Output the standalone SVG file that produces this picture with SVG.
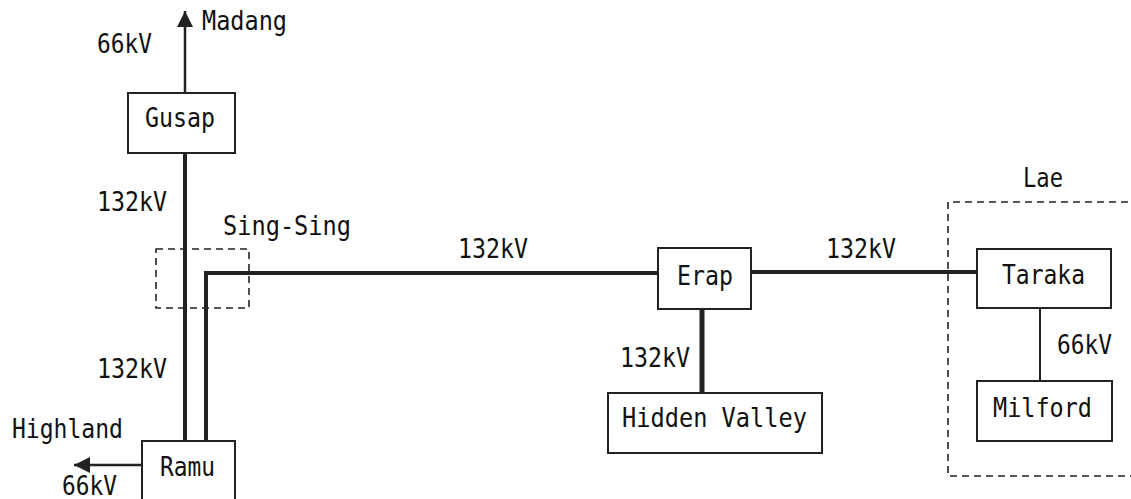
<svg xmlns="http://www.w3.org/2000/svg" width="1131" height="499" viewBox="0 0 1131 499">
  <style>
    text { font-family: "DejaVu Sans Mono", "Liberation Mono", monospace; font-size: 27px; fill: #111; }
    .box { fill: #fff; stroke: #222; stroke-width: 2; }
    .area { fill: none; stroke: #222; stroke-width: 1.6; stroke-dasharray: 7 5; }
    .hv { fill: none; stroke: #222; stroke-width: 4; }
    .lv { fill: none; stroke: #222; stroke-width: 2.5; }
  </style>
  <defs>
    <marker id="arrow" markerUnits="userSpaceOnUse" markerWidth="18" markerHeight="18" refX="16" refY="8" orient="auto">
      <path d="M0,0 L16,8 L0,16 Z" fill="#222"/>
    </marker>
  </defs>

  <!-- substation areas (dashed outlines) -->
  <g id="area-singsing">
    <rect class="area" x="156" y="249" width="93" height="59"/>
    <text x="223" y="235" textLength="128" lengthAdjust="spacingAndGlyphs">Sing-Sing</text>
  </g>
  <g id="area-lae">
    <path class="area" d="M1140,202 H948 V476 H1140"/>
    <text x="1023" y="187" textLength="40" lengthAdjust="spacingAndGlyphs">Lae</text>
  </g>

  <!-- transmission lines -->
  <g id="connectors">
    <path class="lv" d="M185,93 V11" marker-end="url(#arrow)"/>
    <path class="hv" d="M185,153 V441"/>
    <path class="hv" d="M206,441 V273 H658"/>
    <path class="hv" d="M751,272 H977"/>
    <path class="hv" d="M702,309 V393" style="stroke-width:5"/>
    <path class="lv" d="M1040,308 V381" style="stroke-width:2"/>
    <path class="lv" d="M142,465 H74" marker-end="url(#arrow)"/>
  </g>

  <!-- voltage labels and destinations -->
  <g id="labels">
    <text x="97" y="53" textLength="55" lengthAdjust="spacingAndGlyphs">66kV</text>
    <text x="202" y="30" textLength="85" lengthAdjust="spacingAndGlyphs">Madang</text>
    <text x="97" y="211" textLength="70" lengthAdjust="spacingAndGlyphs">132kV</text>
    <text x="97" y="378" textLength="70" lengthAdjust="spacingAndGlyphs">132kV</text>
    <text x="12" y="438" textLength="111" lengthAdjust="spacingAndGlyphs">Highland</text>
    <text x="62" y="495" textLength="55" lengthAdjust="spacingAndGlyphs">66kV</text>
    <text x="458" y="258" textLength="70" lengthAdjust="spacingAndGlyphs">132kV</text>
    <text x="826" y="258" textLength="70" lengthAdjust="spacingAndGlyphs">132kV</text>
    <text x="620" y="367" textLength="70" lengthAdjust="spacingAndGlyphs">132kV</text>
    <text x="1057" y="354" textLength="55" lengthAdjust="spacingAndGlyphs">66kV</text>
  </g>

  <!-- substations -->
  <g id="gusap">
    <rect class="box" x="128" y="93" width="107" height="60"/>
    <text x="145" y="127" textLength="70" lengthAdjust="spacingAndGlyphs">Gusap</text>
  </g>
  <g id="ramu">
    <rect class="box" x="142" y="441" width="93" height="70"/>
    <text x="160" y="476" textLength="55" lengthAdjust="spacingAndGlyphs">Ramu</text>
  </g>
  <g id="erap">
    <rect class="box" x="658" y="248" width="93" height="61"/>
    <text x="677" y="285" textLength="56" lengthAdjust="spacingAndGlyphs">Erap</text>
  </g>
  <g id="hidden-valley">
    <rect class="box" x="608" y="393" width="214" height="60"/>
    <text x="622" y="427" textLength="185" lengthAdjust="spacingAndGlyphs">Hidden Valley</text>
  </g>
  <g id="taraka">
    <rect class="box" x="977" y="249" width="134" height="59"/>
    <text x="1002" y="284" textLength="83" lengthAdjust="spacingAndGlyphs">Taraka</text>
  </g>
  <g id="milford">
    <rect class="box" x="977" y="381" width="135" height="60"/>
    <text x="993" y="417" textLength="99" lengthAdjust="spacingAndGlyphs">Milford</text>
  </g>
</svg>
